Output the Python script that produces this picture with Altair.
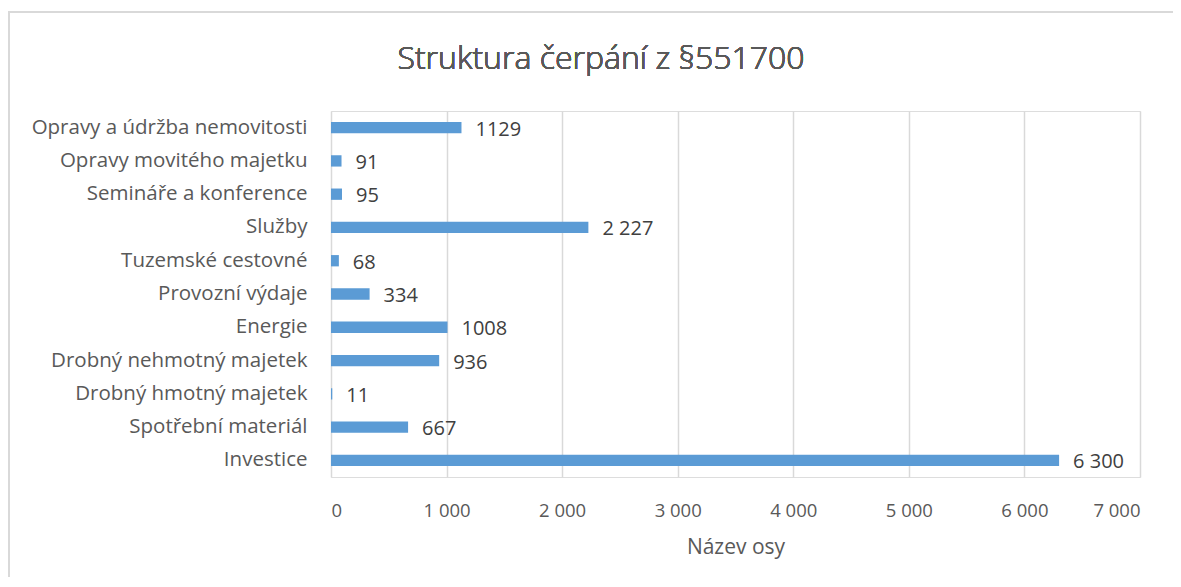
import altair as alt
import pandas as pd

categories = [
    "Opravy a údržba nemovitosti",
    "Opravy movitého majetku",
    "Semináře a konference ",
    "Služby",
    "Tuzemské cestovné",
    "Provozní výdaje",
    "Energie",
    "Drobný nehmotný majetek",
    "Drobný hmotný majetek",
    "Spotřební materiál",
    "Investice ",
]
values = [1129, 91, 95, 2227, 68, 334, 1008, 936, 11, 667, 6300]
value_labels = ["1129", "91", "95", "2 227", "68", "334", "1008", "936", "11", "667", "6 300"]
x_ticks = [0, 1000, 2000, 3000, 4000, 5000, 6000, 7000]

df = pd.DataFrame({"cat": categories, "val": values, "lab": value_labels})

FONT = "Open Sans"
GREY = "#595959"

y_enc = alt.Y("cat:N", sort=categories, title=None,
              scale=alt.Scale(paddingInner=0.66, paddingOuter=0.33),
              axis=alt.Axis(labelFontSize=20.5, labelColor=GREY, labelFont=FONT,
                            labelPadding=24, ticks=False, domain=False, labelLimit=400))
x_enc = alt.X("val:Q", title="Název osy",
              scale=alt.Scale(domain=[0, 7000], nice=False),
              axis=alt.Axis(values=x_ticks, labelExpr="replace(format(datum.value, ','), ',', ' ')",
                            labelFontSize=18.5, labelColor=GREY, labelFont=FONT, labelPadding=24,
                            ticks=False, domain=False, gridColor="#d9d9d9", gridWidth=1.5,
                            titleFontSize=21, titleColor=GREY, titleFont=FONT,
                            titleFontWeight="normal", titlePadding=17))

bars = alt.Chart(df).mark_bar(color="#5b9bd5").encode(y=y_enc, x=x_enc)
labels = alt.Chart(df).mark_text(align="left", baseline="middle", dx=14, dy=2,
                                 fontSize=20, font=FONT, color="#404040").encode(
    y=alt.Y("cat:N", sort=categories), x="val:Q", text="lab:N")

border = alt.Chart(df).mark_rect(fill=None, stroke="#d9d9d9", strokeWidth=2).encode(
    x=alt.value(-322), x2=alt.value(900), y=alt.value(-99), y2=alt.value(600))

title_txt = alt.Chart(df).mark_text(fontSize=32, font=FONT, color=GREY, fontWeight=300,
                                    align="center", baseline="middle").encode(
    x=alt.value(270), y=alt.value(-52), text=alt.value("Struktura čerpání z §551700"))

chart = alt.layer(border, bars, labels, title_txt).properties(
    width=809, height=366,
    autosize=alt.AutoSizeParams(type="none"),
    padding={"left": 323, "top": 103, "right": 33, "bottom": 100},
).configure_view(stroke=None).configure(background="white")

chart.save("out.html", embed_options={"renderer": "svg", "actions": False})
